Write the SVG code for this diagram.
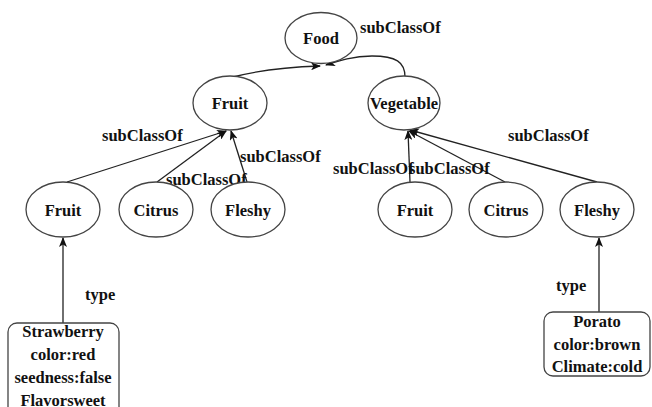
<svg xmlns="http://www.w3.org/2000/svg" width="652" height="407" viewBox="0 0 652 407" font-family="Liberation Serif, serif">
  <style>
    .node ellipse { fill: #fff; stroke: #444; stroke-width: 1.3; }
    .node rect { fill: #fff; stroke: #444; stroke-width: 1.3; }
    text { font-weight: 700; font-size: 16.5px; fill: #111; }
    .c { text-anchor: middle; }
    #edges path, #edges line { fill: none; stroke: #222; stroke-width: 1.3; marker-end: url(#arrow); }
  </style>
  <defs>
    <marker id="arrow" markerWidth="10" markerHeight="8" refX="9" refY="4" orient="auto" markerUnits="userSpaceOnUse">
      <path d="M0,0 L10,4 L0,8 L2.5,4 z" fill="#111"/>
    </marker>
  </defs>

  <rect width="652" height="407" fill="#fff"/>

  <!-- connectors -->
  <g id="edges">
    <path d="M233,77 C260,70 290,67 320,66"/>
    <path d="M405,77 C405,62 396,56 372,56 C352,56 338,61 326,65"/>
    <line x1="67" y1="182" x2="226" y2="131"/>
    <line x1="157" y1="182" x2="226" y2="131"/>
    <line x1="247" y1="182" x2="231" y2="131"/>
    <line x1="410" y1="182" x2="408" y2="131"/>
    <line x1="505" y1="182" x2="409" y2="131"/>
    <line x1="597" y1="182" x2="410" y2="130"/>
    <line x1="63" y1="323" x2="63" y2="238"/>
    <line x1="599" y1="312" x2="599" y2="238"/>
  </g>

  <!-- edge labels -->
  <g id="labels">
    <text x="360" y="33">subClassOf</text>
    <text x="102" y="141">subClassOf</text>
    <text x="240" y="162">subClassOf</text>
    <text x="166" y="185">subClassOf</text>
    <text x="508" y="141">subClassOf</text>
    <text x="333" y="174">subClassOf</text>
    <text x="409" y="174">subClassOf</text>
    <text x="85" y="300">type</text>
    <text x="556" y="291">type</text>
  </g>

  <!-- class nodes -->
  <g id="food" class="node"><ellipse cx="321" cy="38" rx="36" ry="25.5"/><text class="c" x="321" y="44">Food</text></g>
  <g id="fruit" class="node"><ellipse cx="230" cy="103" rx="37" ry="27"/><text class="c" x="230" y="109">Fruit</text></g>
  <g id="vegetable" class="node"><ellipse cx="404" cy="103" rx="36" ry="27"/><text class="c" x="404" y="109">Vegetable</text></g>

  <g id="fruit-left" class="node"><ellipse cx="63" cy="209.5" rx="37" ry="27.5"/><text class="c" x="63" y="216">Fruit</text></g>
  <g id="citrus-left" class="node"><ellipse cx="156" cy="209.5" rx="37" ry="27.5"/><text class="c" x="156" y="216">Citrus</text></g>
  <g id="fleshy-left" class="node"><ellipse cx="248" cy="209.5" rx="37" ry="27.5"/><text class="c" x="248" y="216">Fleshy</text></g>

  <g id="fruit-right" class="node"><ellipse cx="415" cy="209.5" rx="37" ry="27.5"/><text class="c" x="415" y="216">Fruit</text></g>
  <g id="citrus-right" class="node"><ellipse cx="506" cy="209.5" rx="37" ry="27.5"/><text class="c" x="506" y="216">Citrus</text></g>
  <g id="fleshy-right" class="node"><ellipse cx="597" cy="209.5" rx="37" ry="27.5"/><text class="c" x="597" y="216">Fleshy</text></g>

  <!-- instance nodes -->
  <g id="strawberry" class="node">
    <rect x="8" y="323" width="111" height="96" rx="9"/>
    <text class="c" x="63" y="337">Strawberry</text>
    <text class="c" x="63" y="360">color:red</text>
    <text class="c" x="63" y="383">seedness:false</text>
    <text class="c" x="63" y="406">Flavorsweet</text>
  </g>
  <g id="potato" class="node">
    <rect x="544" y="312" width="106" height="64" rx="9"/>
    <text class="c" x="597" y="327">Porato</text>
    <text class="c" x="597" y="350">color:brown</text>
    <text class="c" x="597" y="372">Climate:cold</text>
  </g>
</svg>
